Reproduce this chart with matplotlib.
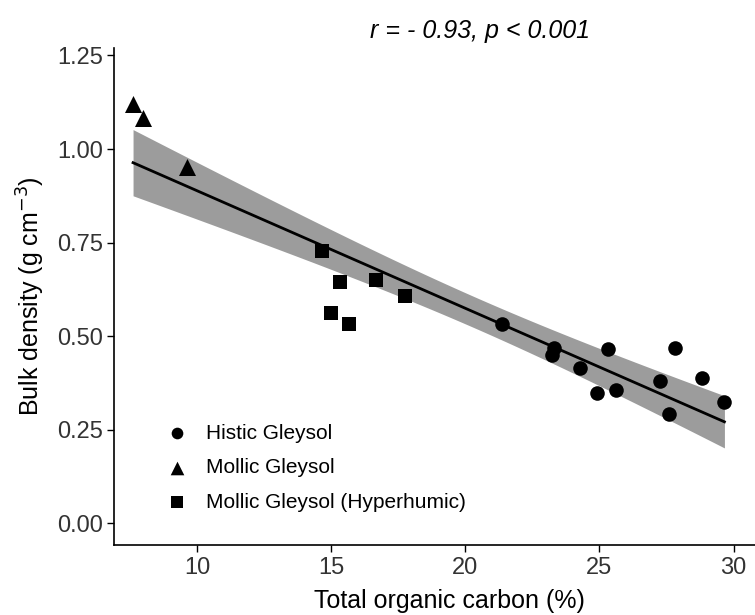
import matplotlib.pyplot as plt
import numpy as np

plt.rcParams['font.family'] = ['Liberation Sans', 'DejaVu Sans']

# Histic Gleysol (circles)
histic_toc = [21.38, 23.29, 23.24, 25.31, 24.26, 27.80, 27.24, 28.81, 24.91, 25.60, 27.59, 29.66]
histic_bd = [0.532, 0.469, 0.450, 0.465, 0.414, 0.469, 0.379, 0.388, 0.348, 0.357, 0.292, 0.323]

# Mollic Gleysol (triangles)
mollic_toc = [7.61, 7.99, 9.62]
mollic_bd = [1.120, 1.082, 0.952]

# Mollic Gleysol (Hyperhumic) (squares)
hyper_toc = [14.65, 15.34, 16.67, 17.74, 14.99, 15.68]
hyper_bd = [0.727, 0.645, 0.650, 0.608, 0.5625, 0.533]

x_ticks = [10, 15, 20, 25, 30]
y_ticks = [0.00, 0.25, 0.50, 0.75, 1.00, 1.25]

# linear fit with 95% confidence band (like geom_smooth(method = "lm"))
x_all = np.array(histic_toc + mollic_toc + hyper_toc)
y_all = np.array(histic_bd + mollic_bd + hyper_bd)
slope, intercept = np.polyfit(x_all, y_all, 1)
n = len(x_all)
resid = y_all - (slope * x_all + intercept)
s = np.sqrt(np.sum(resid ** 2) / (n - 2))
sxx = np.sum((x_all - x_all.mean()) ** 2)
t_crit = 2.093  # t(0.975, df=19)
xs = np.linspace(x_all.min(), x_all.max(), 100)
ys = slope * xs + intercept
se = s * np.sqrt(1 / n + (xs - x_all.mean()) ** 2 / sxx)

fig = plt.figure(figsize=(7.55, 6.15), dpi=100)
ax = fig.add_axes([0.151, 0.114, 0.849, 0.808])

ax.fill_between(xs, ys - t_crit * se, ys + t_crit * se, color='#9c9c9c', lw=0, zorder=1)
ax.plot(xs, ys, color='black', lw=2, zorder=2)

ax.scatter(histic_toc, histic_bd, marker='o', s=110, color='black', lw=0, zorder=3, label='Histic Gleysol')
ax.scatter(mollic_toc, mollic_bd, marker='^', s=150, color='black', lw=0, zorder=3, label='Mollic Gleysol')
ax.scatter(hyper_toc, hyper_bd, marker='s', s=110, color='black', lw=0, zorder=3, label='Mollic Gleysol (Hyperhumic)')

ax.set_xlim(6.9, 30.8)
ax.set_ylim(-0.058, 1.27)
ax.set_xticks(x_ticks)
ax.set_yticks(y_ticks)
ax.set_yticklabels(['%.2f' % v for v in y_ticks])

for side in ['top', 'right']:
    ax.spines[side].set_visible(False)
for side in ['left', 'bottom']:
    ax.spines[side].set_linewidth(1.2)
ax.tick_params(labelsize=17, labelcolor='#333333', length=5, width=1)
ax.tick_params(axis='x', pad=4)
ax.tick_params(axis='y', pad=3)

ax.set_xlabel('Total organic carbon (%)', fontsize=18)
ax.xaxis.set_label_coords(0.524, -0.088)
ax.set_ylabel(r'Bulk density (g cm$^{-3}$)', fontsize=18)
ax.yaxis.set_label_coords(-0.105, 0.5)

ax.legend(loc='lower left', bbox_to_anchor=(0.043, 0.037), frameon=False, fontsize=15,
          handletextpad=0.4, labelspacing=0.75, markerscale=0.8, borderpad=0.2)

fig.text(0.636, 0.95, r'r = - 0.93, p < 0.001', fontsize=18, style='italic', ha='center', va='center')

fig.savefig('out.png', dpi=100)
